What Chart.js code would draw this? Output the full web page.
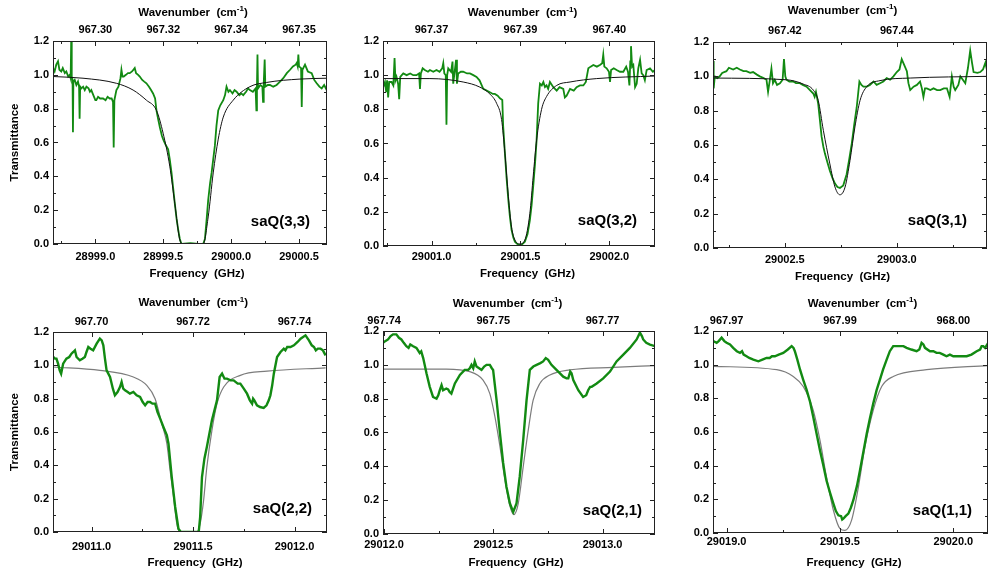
<!DOCTYPE html>
<html lang="en">
<head>
<meta charset="UTF-8">
<title>saQ transitions</title>
<script src="https://cdn.jsdelivr.net/npm/chart.js"></script>
<style>
  html, body { margin: 0; padding: 0; background: #fff; }
  #figure { position: relative; width: 989px; height: 573px; overflow: hidden; }
  .panel { position: absolute; }
</style>
</head>
<body>
<div id="figure">
  <canvas class="panel" id="p33" width="330" height="290" style="left:0;top:0"></canvas>
  <canvas class="panel" id="p32" width="330" height="290" style="left:330px;top:0"></canvas>
  <canvas class="panel" id="p31" width="329" height="290" style="left:660px;top:0"></canvas>
  <canvas class="panel" id="p22" width="330" height="283" style="left:0;top:290px"></canvas>
  <canvas class="panel" id="p21" width="330" height="283" style="left:330px;top:290px"></canvas>
  <canvas class="panel" id="p11" width="329" height="283" style="left:660px;top:290px"></canvas>
</div>
<script>
// ---- data: [frequency GHz, transmittance] ----
const transTicks = [0, 0.2, 0.4, 0.6, 0.8, 1.0, 1.2];

// saQ(3,3)
const range33 = [28998.688, 29000.706];
const freqTicks33 = [28999.0, 28999.5, 29000.0, 29000.5];
const wave33 = ['967.30', '967.32', '967.34', '967.35'];
const sig33 = [
  [28998.688,1.04],[28998.700,1.02],[28998.712,1.06],[28998.725,1.08],[28998.735,1.03],[28998.749,1.02],
  [28998.760,1.04],[28998.775,1.01],[28998.786,1.02],[28998.800,0.99],[28998.811,1.00],[28998.818,0.98],
  [28998.822,1.20],[28998.826,0.99],[28998.832,0.97],[28998.835,0.66],[28998.838,0.96],[28998.848,0.97],
  [28998.860,0.94],[28998.872,0.96],[28998.880,0.93],[28998.884,0.74],[28998.888,0.93],[28998.897,0.92],
  [28998.910,0.93],[28998.922,0.91],[28998.934,0.93],[28998.950,0.92],[28998.960,0.90],[28998.970,0.91],
  [28998.985,0.88],[28999.000,0.85],[28999.007,0.85],[28999.020,0.87],[28999.035,0.86],[28999.057,0.86],
  [28999.075,0.85],[28999.090,0.87],[28999.106,0.86],[28999.120,0.86],[28999.130,0.84],[28999.135,0.57],
  [28999.140,0.85],[28999.155,0.91],[28999.170,0.93],[28999.185,0.98],[28999.192,1.03],[28999.200,0.99],
  [28999.209,0.99],[28999.225,1.00],[28999.240,1.01],[28999.253,1.01],[28999.270,1.02],[28999.290,1.04],
  [28999.300,1.01],[28999.315,1.00],[28999.327,0.99],[28999.345,0.97],[28999.360,0.96],[28999.376,0.95],
  [28999.395,0.93],[28999.410,0.91],[28999.425,0.89],[28999.440,0.86],[28999.450,0.79],[28999.462,0.74],
  [28999.475,0.69],[28999.490,0.64],[28999.499,0.62],[28999.515,0.59],[28999.536,0.56],[28999.548,0.50],
  [28999.561,0.42],[28999.573,0.33],[28999.585,0.24],[28999.598,0.15],[28999.610,0.085],[28999.622,0.03],
  [28999.634,0.00],[28999.700,0.005],[28999.760,0.00],[28999.794,0.00],[28999.807,0.03],[28999.820,0.15],
  [28999.831,0.26],[28999.845,0.36],[28999.856,0.42],[28999.868,0.50],[28999.880,0.58],[28999.892,0.70],
  [28999.905,0.79],[28999.920,0.82],[28999.942,0.85],[28999.955,0.88],[28999.966,0.93],[28999.980,0.90],
  [28999.991,0.91],[29000.010,0.89],[29000.025,0.91],[29000.040,0.90],[29000.060,0.88],[29000.075,0.89],
  [29000.089,0.88],[29000.110,0.90],[29000.125,0.92],[29000.138,0.91],[29000.160,0.90],[29000.180,0.92],
  [29000.186,0.79],[29000.190,0.93],[29000.194,1.12],[29000.198,0.92],[29000.215,0.94],[29000.230,0.93],
  [29000.235,0.84],[29000.240,0.95],[29000.247,1.09],[29000.252,0.93],[29000.270,0.94],[29000.286,0.94],
  [29000.310,0.93],[29000.335,0.94],[29000.360,0.96],[29000.384,0.98],[29000.410,1.01],[29000.434,1.03],
  [29000.455,1.05],[29000.475,1.06],[29000.483,1.07],[29000.490,1.05],[29000.495,1.12],[29000.500,1.05],
  [29000.515,1.04],[29000.520,0.81],[29000.525,1.03],[29000.544,1.06],[29000.565,1.02],[29000.593,1.01],
  [29000.612,0.97],[29000.630,0.95],[29000.650,0.93],[29000.667,0.92],[29000.685,0.94],[29000.704,0.91]
];
const fit33 = [
  [28998.688,0.99],[28998.909,0.98],[28999.155,0.95],[28999.278,0.91],[28999.376,0.85],[28999.450,0.79],
  [28999.499,0.655],[28999.548,0.46],[28999.585,0.24],[28999.622,0.025],[28999.647,0.0],[28999.794,0.0],
  [28999.831,0.16],[28999.868,0.42],[28999.905,0.62],[28999.942,0.75],[29000.015,0.85],[29000.138,0.93],
  [29000.261,0.955],[29000.507,0.975],[29000.704,0.98]
];

// saQ(3,2)
const range32 = [29000.727, 29002.257];
const freqTicks32 = [29001.0, 29001.5, 29002.0];
const wave32 = ['967.37', '967.39', '967.40'];
const sig32 = [
  [29000.728,0.93],[29000.738,0.96],[29000.745,0.90],[29000.750,0.97],[29000.756,0.87],[29000.762,0.96],
  [29000.775,0.96],[29000.785,0.94],[29000.792,1.10],[29000.797,0.97],[29000.803,0.99],[29000.812,0.95],
  [29000.818,0.86],[29000.824,0.99],[29000.841,1.01],[29000.860,1.00],[29000.880,1.01],[29000.897,1.00],
  [29000.915,1.00],[29000.930,1.01],[29000.935,0.92],[29000.940,1.01],[29000.950,1.04],[29000.962,1.03],
  [29000.980,1.02],[29000.991,1.03],[29001.010,1.02],[29001.028,1.03],[29001.045,1.02],[29001.060,1.04],
  [29001.066,1.07],[29001.072,1.01],[29001.080,1.00],[29001.084,0.71],[29001.088,1.00],[29001.094,1.04],
  [29001.110,1.02],[29001.118,1.08],[29001.122,0.95],[29001.130,1.02],[29001.138,1.09],[29001.143,0.95],
  [29001.150,1.01],[29001.165,1.02],[29001.178,1.02],[29001.200,1.01],[29001.216,1.01],[29001.235,1.00],
  [29001.253,0.99],[29001.270,0.97],[29001.291,0.92],[29001.310,0.91],[29001.328,0.90],[29001.345,0.89],
  [29001.356,0.89],[29001.372,0.88],[29001.385,0.865],[29001.398,0.855],[29001.403,0.70],[29001.413,0.54],
  [29001.422,0.40],[29001.432,0.27],[29001.441,0.17],[29001.450,0.094],[29001.460,0.05],[29001.469,0.025],
  [29001.484,0.01],[29001.497,0.006],[29001.510,0.01],[29001.525,0.025],[29001.540,0.07],[29001.553,0.15],
  [29001.563,0.24],[29001.572,0.35],[29001.582,0.48],[29001.591,0.62],[29001.600,0.835],[29001.610,0.95],
  [29001.620,0.94],[29001.629,0.96],[29001.638,0.93],[29001.647,0.94],[29001.656,0.92],[29001.666,0.96],
  [29001.685,0.93],[29001.704,0.91],[29001.720,0.93],[29001.741,0.92],[29001.750,0.87],[29001.760,0.88],
  [29001.779,0.92],[29001.800,0.91],[29001.816,0.93],[29001.835,0.94],[29001.854,0.94],[29001.868,0.96],
  [29001.882,1.04],[29001.895,1.05],[29001.910,1.06],[29001.930,1.05],[29001.947,1.06],[29001.960,1.07],
  [29001.966,1.12],[29001.972,1.05],[29001.985,1.04],[29001.998,1.02],[29002.004,0.96],[29002.010,1.03],
  [29002.025,1.04],[29002.041,1.03],[29002.060,1.02],[29002.079,1.02],[29002.095,1.05],[29002.105,1.02],
  [29002.113,0.94],[29002.118,1.08],[29002.122,1.17],[29002.128,1.05],[29002.135,1.06],[29002.145,0.93],
  [29002.154,0.95],[29002.163,1.04],[29002.173,1.09],[29002.182,1.01],[29002.191,1.00],[29002.200,0.97],
  [29002.210,1.03],[29002.229,1.04],[29002.245,1.02],[29002.257,1.03]
];
const fit32 = [
  [29000.728,0.98],[29000.991,0.98],[29001.178,0.96],[29001.272,0.93],[29001.328,0.89],[29001.366,0.835],
  [29001.394,0.74],[29001.413,0.54],[29001.432,0.29],[29001.450,0.11],[29001.469,0.035],[29001.497,0.012],
  [29001.525,0.035],[29001.553,0.19],[29001.572,0.41],[29001.591,0.62],[29001.619,0.80],[29001.647,0.875],
  [29001.704,0.94],[29001.779,0.96],[29001.929,0.98],[29002.257,0.995]
];

// saQ(3,1)
const range31 = [29002.179, 29003.403];
const freqTicks31 = [29002.5, 29003.0];
const wave31 = ['967.42', '967.44'];
const sig31 = [
  [29002.179,1.09],[29002.182,0.93],[29002.187,1.00],[29002.198,0.99],[29002.209,1.00],[29002.220,1.02],
  [29002.239,1.03],[29002.250,1.05],[29002.269,1.04],[29002.285,1.05],[29002.299,1.04],[29002.315,1.03],
  [29002.328,1.03],[29002.345,1.02],[29002.358,1.025],[29002.375,1.01],[29002.388,1.00],[29002.405,0.99],
  [29002.418,0.98],[29002.425,0.91],[29002.432,0.97],[29002.440,1.045],[29002.447,0.96],[29002.455,0.98],
  [29002.465,0.95],[29002.478,0.96],[29002.490,0.98],[29002.496,1.10],[29002.502,1.00],[29002.507,0.98],
  [29002.520,0.97],[29002.537,0.97],[29002.550,0.96],[29002.567,0.96],[29002.580,0.95],[29002.597,0.94],
  [29002.612,0.92],[29002.627,0.90],[29002.633,0.88],[29002.639,0.91],[29002.649,0.84],[29002.657,0.74],
  [29002.664,0.65],[29002.672,0.59],[29002.679,0.55],[29002.690,0.50],[29002.701,0.45],[29002.712,0.41],
  [29002.724,0.375],[29002.735,0.355],[29002.746,0.35],[29002.761,0.365],[29002.776,0.43],[29002.788,0.52],
  [29002.799,0.61],[29002.810,0.72],[29002.821,0.82],[29002.833,0.97],[29002.842,0.95],[29002.851,0.94],
  [29002.866,0.94],[29002.880,0.95],[29002.896,0.97],[29002.910,0.95],[29002.925,0.96],[29002.940,0.97],
  [29002.955,0.99],[29002.970,0.98],[29002.985,1.00],[29003.000,1.025],[29003.012,1.04],[29003.022,1.10],
  [29003.032,1.07],[29003.045,1.03],[29003.052,0.96],[29003.060,0.92],[29003.075,0.94],[29003.090,0.95],
  [29003.104,0.97],[29003.112,0.93],[29003.119,0.88],[29003.126,0.93],[29003.134,0.93],[29003.150,0.92],
  [29003.164,0.93],[29003.180,0.92],[29003.194,0.92],[29003.210,0.93],[29003.224,0.93],[29003.236,0.88],
  [29003.246,1.00],[29003.254,0.94],[29003.261,0.92],[29003.275,0.95],[29003.284,1.00],[29003.295,0.98],
  [29003.306,0.96],[29003.318,1.05],[29003.328,1.15],[29003.336,1.08],[29003.343,1.025],[29003.360,1.02],
  [29003.373,1.025],[29003.385,1.04],[29003.396,1.08],[29003.403,1.035]
];
const fit31 = [
  [29002.179,0.99],[29002.507,0.98],[29002.582,0.955],[29002.627,0.92],[29002.649,0.86],[29002.672,0.685],
  [29002.701,0.49],[29002.724,0.355],[29002.746,0.31],[29002.769,0.355],[29002.791,0.51],[29002.813,0.705],
  [29002.836,0.86],[29002.866,0.94],[29002.925,0.975],[29003.060,0.99],[29003.403,1.0]
];

// saQ(2,2)
const range22 = [29010.81, 29012.16];
const freqTicks22 = [29011.0, 29011.5, 29012.0];
const wave22 = ['967.70', '967.72', '967.74'];
const sig22 = [
  [29010.811,1.05],[29010.820,1.04],[29010.827,1.04],[29010.835,1.01],[29010.843,0.97],[29010.850,0.95],
  [29010.860,1.01],[29010.876,1.04],[29010.890,1.05],[29010.901,1.07],[29010.910,1.08],[29010.918,1.09],
  [29010.926,1.05],[29010.942,1.03],[29010.955,1.04],[29010.967,1.05],[29010.975,1.08],[29010.984,1.11],
  [29010.995,1.10],[29011.008,1.09],[29011.025,1.13],[29011.041,1.16],[29011.050,1.15],[29011.058,1.12],
  [29011.066,1.04],[29011.074,0.97],[29011.091,0.93],[29011.105,0.86],[29011.115,0.82],[29011.128,0.84],
  [29011.140,0.87],[29011.148,0.90],[29011.156,0.86],[29011.165,0.85],[29011.178,0.84],[29011.189,0.83],
  [29011.206,0.84],[29011.222,0.82],[29011.239,0.81],[29011.252,0.78],[29011.264,0.76],[29011.276,0.78],
  [29011.288,0.78],[29011.300,0.77],[29011.313,0.77],[29011.325,0.72],[29011.338,0.68],[29011.354,0.63],
  [29011.371,0.58],[29011.379,0.53],[29011.395,0.33],[29011.412,0.15],[29011.428,0.02],[29011.440,0.00],
  [29011.528,0.00],[29011.535,0.09],[29011.544,0.33],[29011.556,0.44],[29011.568,0.51],[29011.593,0.67],
  [29011.618,0.79],[29011.631,0.93],[29011.643,0.95],[29011.655,0.92],[29011.667,0.92],[29011.685,0.91],
  [29011.700,0.91],[29011.720,0.89],[29011.733,0.89],[29011.750,0.86],[29011.766,0.83],[29011.780,0.79],
  [29011.791,0.77],[29011.796,0.80],[29011.802,0.79],[29011.815,0.76],[29011.830,0.75],[29011.848,0.745],
  [29011.862,0.76],[29011.873,0.79],[29011.881,0.82],[29011.890,0.88],[29011.898,0.95],[29011.914,1.05],
  [29011.931,1.08],[29011.947,1.10],[29011.955,1.09],[29011.964,1.11],[29011.980,1.11],[29011.997,1.12],
  [29012.015,1.14],[29012.030,1.16],[29012.054,1.18],[29012.071,1.15],[29012.085,1.12],[29012.096,1.11],
  [29012.105,1.09],[29012.115,1.10],[29012.128,1.10],[29012.140,1.09],[29012.153,1.06]
];
const fit22 = [
  [29010.811,0.99],[29011.041,0.97],[29011.206,0.93],[29011.272,0.88],[29011.313,0.80],[29011.346,0.65],
  [29011.371,0.53],[29011.387,0.37],[29011.404,0.21],[29011.420,0.05],[29011.437,0.0],[29011.519,0.0],
  [29011.535,0.05],[29011.552,0.19],[29011.568,0.39],[29011.593,0.61],[29011.618,0.77],[29011.651,0.87],
  [29011.733,0.94],[29011.865,0.965],[29012.153,0.985]
];

// saQ(2,1)
const range21 = [29011.995, 29013.24];
const freqTicks21 = [29012.0, 29012.5, 29013.0];
const wave21 = ['967.74', '967.75', '967.77'];
const sig21 = [
  [29011.995,1.13],[29012.005,1.14],[29012.018,1.15],[29012.030,1.17],[29012.041,1.18],[29012.056,1.18],
  [29012.068,1.16],[29012.079,1.15],[29012.090,1.13],[29012.102,1.11],[29012.112,1.10],[29012.120,1.12],
  [29012.133,1.11],[29012.148,1.10],[29012.163,1.07],[29012.170,1.08],[29012.179,1.04],[29012.194,0.95],
  [29012.209,0.87],[29012.224,0.81],[29012.240,0.80],[29012.248,0.82],[29012.255,0.85],[29012.263,0.88],
  [29012.270,0.85],[29012.285,0.86],[29012.293,0.855],[29012.300,0.84],[29012.308,0.83],[29012.324,0.89],
  [29012.347,0.94],[29012.369,0.97],[29012.385,0.97],[29012.392,0.98],[29012.400,1.00],[29012.408,0.98],
  [29012.415,1.02],[29012.423,0.99],[29012.435,0.98],[29012.446,0.97],[29012.458,0.99],[29012.469,1.00],
  [29012.484,1.00],[29012.493,0.98],[29012.499,0.97],[29012.507,0.88],[29012.515,0.79],[29012.530,0.60],
  [29012.545,0.42],[29012.560,0.28],[29012.576,0.18],[29012.591,0.13],[29012.606,0.18],[29012.621,0.34],
  [29012.637,0.56],[29012.652,0.79],[29012.667,0.97],[29012.683,0.99],[29012.698,1.00],[29012.715,1.01],
  [29012.728,1.02],[29012.740,1.04],[29012.751,1.03],[29012.766,1.00],[29012.789,0.97],[29012.805,0.95],
  [29012.820,0.93],[29012.835,0.92],[29012.843,0.92],[29012.852,0.96],[29012.858,0.95],[29012.866,0.91],
  [29012.889,0.85],[29012.911,0.81],[29012.925,0.82],[29012.934,0.85],[29012.943,0.87],[29012.950,0.87],
  [29012.973,0.89],[29013.003,0.92],[29013.034,0.96],[29013.064,1.02],[29013.095,1.06],[29013.125,1.10],
  [29013.156,1.15],[29013.171,1.19],[29013.180,1.17],[29013.186,1.15],[29013.200,1.13],[29013.217,1.12],
  [29013.240,1.11]
];
const fit21 = [
  [29011.995,0.975],[29012.285,0.975],[29012.392,0.96],[29012.453,0.91],[29012.484,0.83],[29012.507,0.695],
  [29012.530,0.52],[29012.553,0.32],[29012.576,0.165],[29012.594,0.115],[29012.614,0.18],[29012.637,0.40],
  [29012.660,0.615],[29012.682,0.79],[29012.713,0.89],[29012.759,0.94],[29012.850,0.97],[29013.049,0.985],
  [29013.240,0.995]
];

// saQ(1,1)
const range11 = [29018.94, 29020.153];
const freqTicks11 = [29019.0, 29019.5, 29020.0];
const wave11 = ['967.97', '967.99', '968.00'];
const sig11 = [
  [29018.941,1.14],[29018.956,1.13],[29018.965,1.14],[29018.978,1.16],[29018.990,1.14],[29019.000,1.13],
  [29019.015,1.12],[29019.029,1.10],[29019.045,1.08],[29019.059,1.07],[29019.068,1.08],[29019.075,1.06],
  [29019.088,1.05],[29019.100,1.04],[29019.118,1.03],[29019.140,1.02],[29019.158,1.03],[29019.176,1.04],
  [29019.190,1.04],[29019.200,1.05],[29019.213,1.05],[29019.230,1.06],[29019.250,1.07],[29019.270,1.09],
  [29019.287,1.11],[29019.295,1.10],[29019.301,1.08],[29019.312,1.03],[29019.324,0.97],[29019.338,0.91],
  [29019.353,0.85],[29019.368,0.78],[29019.382,0.69],[29019.397,0.59],[29019.412,0.49],[29019.427,0.40],
  [29019.441,0.31],[29019.456,0.24],[29019.471,0.175],[29019.482,0.13],[29019.493,0.105],[29019.505,0.10],
  [29019.510,0.08],[29019.515,0.085],[29019.525,0.10],[29019.537,0.115],[29019.548,0.15],[29019.559,0.195],
  [29019.575,0.28],[29019.588,0.37],[29019.603,0.48],[29019.618,0.59],[29019.632,0.68],[29019.647,0.77],
  [29019.662,0.85],[29019.676,0.91],[29019.690,0.97],[29019.706,1.03],[29019.720,1.08],[29019.735,1.11],
  [29019.750,1.11],[29019.765,1.11],[29019.780,1.11],[29019.794,1.10],[29019.815,1.09],[29019.838,1.08],
  [29019.850,1.09],[29019.860,1.13],[29019.868,1.12],[29019.875,1.10],[29019.897,1.08],[29019.912,1.08],
  [29019.926,1.07],[29019.940,1.07],[29019.956,1.06],[29019.970,1.05],[29019.985,1.06],[29020.000,1.05],
  [29020.015,1.05],[29020.040,1.05],[29020.059,1.05],[29020.080,1.06],[29020.103,1.08],[29020.118,1.09],
  [29020.125,1.11],[29020.132,1.11],[29020.140,1.10],[29020.154,1.13]
];
const fit11 = [
  [29018.941,0.99],[29019.221,0.97],[29019.294,0.93],[29019.338,0.87],[29019.382,0.73],[29019.412,0.55],
  [29019.441,0.33],[29019.471,0.135],[29019.500,0.026],[29019.522,0.016],[29019.551,0.075],[29019.581,0.27],
  [29019.610,0.51],[29019.647,0.73],[29019.684,0.87],[29019.735,0.93],[29019.882,0.97],[29020.154,0.995]
];

// ---- layout / style per panel ----
const FONT = '"Liberation Sans", Arial, Helvetica, sans-serif';
const GREEN = '#128a12';

const panels = [
  { id: 'p33', name: 'saQ(3,3)', sig: sig33, fit: fit33, range: range33, ticks: freqTicks33, wave: wave33,
    plot: { left: 53, top: 41, right: 3, bottom: 244 }, botPad: 6, topPad: 4, yTitle: true,
    topTitle: [3, 13], botTitle: [7, 274], label: [17, 18], heavy: false },
  { id: 'p32', name: 'saQ(3,2)', sig: sig32, fit: fit32, range: range32, ticks: freqTicks32, wave: wave32,
    plot: { left: 53, top: 41, right: 5, bottom: 246 }, botPad: 4, topPad: 4, yTitle: false,
    topTitle: [3.5, 13.3], botTitle: [8.5, 274], label: [18, 21], heavy: false },
  { id: 'p31', name: 'saQ(3,1)', sig: sig31, fit: fit31, range: range31, ticks: freqTicks31, wave: wave31,
    plot: { left: 53, top: 42, right: 2, bottom: 248 }, botPad: 5, topPad: 4, yTitle: false,
    topTitle: [-7.5, 10.7], botTitle: [-7.5, 276.7], label: [20, 23], heavy: false },
  { id: 'p22', name: 'saQ(2,2)', sig: sig22, fit: fit22, range: range22, ticks: freqTicks22, wave: wave22,
    plot: { left: 53, top: 42, right: 3, bottom: 242 }, botPad: 8, topPad: 3, yTitle: true,
    topTitle: [3.3, 13.3], botTitle: [5, 273.3], label: [15, 19], heavy: true },
  { id: 'p21', name: 'saQ(2,1)', sig: sig21, fit: fit21, range: range21, ticks: freqTicks21, wave: wave21,
    plot: { left: 53, top: 41, right: 5, bottom: 244 }, botPad: 4, topPad: 3, yTitle: false,
    topTitle: [-11.5, 14], botTitle: [-3, 273], label: [13, 19], heavy: true },
  { id: 'p11', name: 'saQ(1,1)', sig: sig11, fit: fit11, range: range11, ticks: freqTicks11, wave: wave11,
    plot: { left: 53, top: 41, right: 1, bottom: 243 }, botPad: 2, topPad: 3, yTitle: false,
    topTitle: [12, 14], botTitle: [3.5, 273.3], label: [16, 18], heavy: true }
];
const panelById = {};
panels.forEach(p => { panelById[p.id] = p; });

// frame, inward ticks, axis titles and transition label
const framePlugin = {
  id: 'frame',
  afterDatasetsDraw(chart) {
    const p = panelById[chart.canvas.id];
    const { ctx, chartArea: a } = chart;
    const xs = chart.scales.x, ys = chart.scales.y;
    ctx.save();
    ctx.strokeStyle = '#222';
    ctx.lineWidth = 1;
    ctx.beginPath();
    for (let k = Math.ceil(xs.min / 0.25 - 1e-9); k * 0.25 <= xs.max + 1e-9; k++) {
      const px = Math.round(xs.getPixelForValue(k * 0.25)) + 0.5;
      const len = (k % 2 === 0) ? 5 : 3;
      ctx.moveTo(px, a.bottom); ctx.lineTo(px, a.bottom - len);
      ctx.moveTo(px, a.top); ctx.lineTo(px, a.top + len);
    }
    for (let k = 0; k <= 12; k++) {
      const py = Math.round(ys.getPixelForValue(k * 0.1)) + 0.5;
      const len = (k % 2 === 0) ? 5 : 3;
      ctx.moveTo(a.left, py); ctx.lineTo(a.left + len, py);
      ctx.moveTo(a.right, py); ctx.lineTo(a.right - len, py);
    }
    ctx.stroke();
    ctx.strokeRect(Math.round(a.left) + 0.5, Math.round(a.top) + 0.5,
                   Math.round(a.right) - Math.round(a.left) - 1, Math.round(a.bottom) - Math.round(a.top) - 1);

    ctx.fillStyle = '#000';
    const cx = (a.left + a.right) / 2;

    // top title with superscript
    ctx.textBaseline = 'middle';
    ctx.textAlign = 'left';
    const tFont = 'bold 11.5px ' + FONT, sFont = 'bold 8px ' + FONT;
    const t1 = 'Wavenumber  (cm', t2 = '-1', t3 = ')';
    ctx.font = tFont; const w1 = ctx.measureText(t1).width, w3 = ctx.measureText(t3).width;
    ctx.font = sFont; const w2 = ctx.measureText(t2).width;
    let x0 = cx + p.topTitle[0] - (w1 + w2 + w3) / 2;
    const ty = p.topTitle[1];
    ctx.font = tFont; ctx.fillText(t1, x0, ty);
    ctx.font = sFont; ctx.fillText(t2, x0 + w1, ty - 4);
    ctx.font = tFont; ctx.fillText(t3, x0 + w1 + w2, ty);

    // bottom title
    ctx.textAlign = 'center';
    ctx.fillText('Frequency  (GHz)', cx + p.botTitle[0], p.botTitle[1]);

    // y title
    if (p.yTitle) {
      ctx.save();
      ctx.translate(15, (a.top + a.bottom) / 2);
      ctx.rotate(-Math.PI / 2);
      ctx.fillText('Transmittance', 0, 0);
      ctx.restore();
    }

    // transition label
    ctx.font = 'bold 15px ' + FONT;
    ctx.textAlign = 'right';
    ctx.textBaseline = 'alphabetic';
    ctx.fillText(p.name, a.right - p.label[0], a.bottom - p.label[1]);
    ctx.restore();
  }
};

Chart.defaults.font.family = FONT;
Chart.defaults.font.size = 11;
Chart.defaults.font.weight = 'bold';
Chart.defaults.color = '#000';

function makePanel(p) {
  const canvas = document.getElementById(p.id);
  const H = canvas.height;
  const toXY = arr => arr.map(([x, y]) => ({ x, y }));
  const majorTicks = s => { s.ticks = p.ticks.map(v => ({ value: v })); };
  new Chart(canvas, {
    type: 'line',
    data: {
      datasets: [
        { data: toXY(p.sig), borderColor: GREEN, borderWidth: p.heavy ? 2.4 : 1.8,
          pointRadius: 0, tension: 0, clip: 0, order: p.heavy ? 0 : 1 },
        { data: toXY(p.fit), borderColor: p.heavy ? '#7c7c7c' : '#111', borderWidth: p.heavy ? 1.2 : 1,
          pointRadius: 0, cubicInterpolationMode: 'monotone', clip: 0, order: p.heavy ? 1 : 0 }
      ]
    },
    options: {
      responsive: false,
      animation: false,
      events: [],
      layout: { padding: { left: 0, top: 0, bottom: 0, right: p.plot.right } },
      plugins: { legend: { display: false }, tooltip: { enabled: false } },
      scales: {
        x: {
          type: 'linear', position: 'bottom', min: p.range[0], max: p.range[1],
          grid: { display: false, drawTicks: false }, border: { display: false },
          afterBuildTicks: majorTicks,
          afterFit: s => { s.height = H - p.plot.bottom; },
          ticks: { autoSkip: false, maxRotation: 0, padding: p.botPad, callback: v => v.toFixed(1) }
        },
        xTop: {
          type: 'linear', position: 'top', min: p.range[0], max: p.range[1],
          grid: { display: false, drawTicks: false }, border: { display: false },
          afterBuildTicks: majorTicks,
          afterFit: s => { s.height = p.plot.top; },
          ticks: { autoSkip: false, maxRotation: 0, padding: p.topPad, callback: (v, i) => p.wave[i] }
        },
        y: {
          type: 'linear', min: 0, max: 1.2,
          grid: { display: false, drawTicks: false }, border: { display: false },
          afterBuildTicks: s => { s.ticks = transTicks.map(v => ({ value: v })); },
          afterFit: s => { s.width = p.plot.left; },
          ticks: { padding: 4, callback: v => v.toFixed(1) }
        }
      }
    },
    plugins: [framePlugin]
  });
}

panels.forEach(makePanel);
</script>
</body>
</html>
